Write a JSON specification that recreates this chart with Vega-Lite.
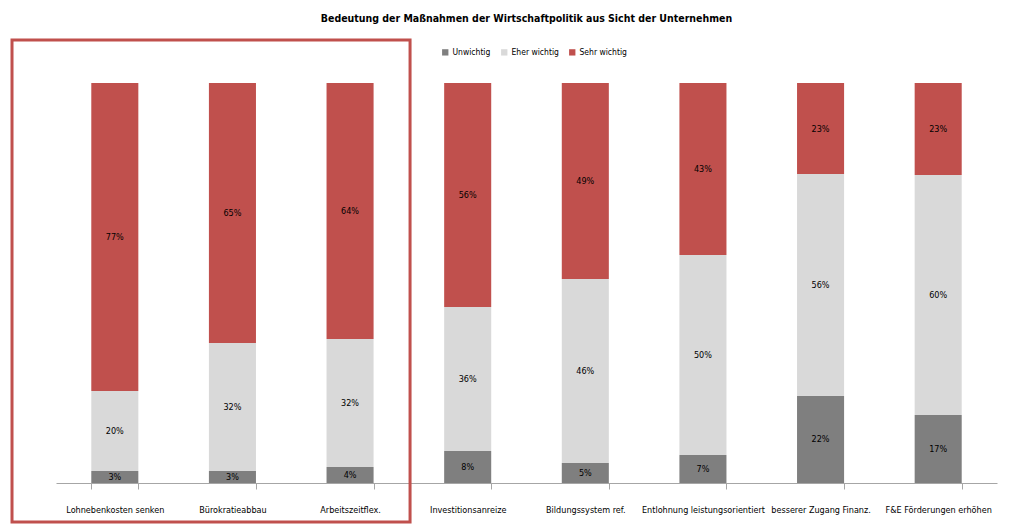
{
  "$schema": "https://vega.github.io/schema/vega-lite/v6.json",
  "width": 941,
  "height": 400,
  "autosize": {"type": "none"},
  "padding": {"left": 56, "top": 83, "right": 29, "bottom": 49},
  "background": "white",
  "title": {
    "text": "Bedeutung der Maßnahmen der Wirtschaftpolitik aus Sicht der Unternehmen",
    "font": "DejaVu Sans Condensed",
    "fontSize": 10.5,
    "fontWeight": "bold",
    "color": "#000000",
    "anchor": "middle",
    "frame": "group",
    "offset": 14
  },
  "config": {
    "view": {"stroke": null},
    "font": "DejaVu Sans Condensed"
  },
  "layer": [
    {
      "data": {
        "values": [
          {"cat": "Lohnebenkosten senken", "lvl": "Unwichtig", "v": 0.03},
          {"cat": "Lohnebenkosten senken", "lvl": "Eher wichtig", "v": 0.20},
          {"cat": "Lohnebenkosten senken", "lvl": "Sehr wichtig", "v": 0.77},
          {"cat": "Bürokratieabbau", "lvl": "Unwichtig", "v": 0.03},
          {"cat": "Bürokratieabbau", "lvl": "Eher wichtig", "v": 0.32},
          {"cat": "Bürokratieabbau", "lvl": "Sehr wichtig", "v": 0.65},
          {"cat": "Arbeitszeitflex.", "lvl": "Unwichtig", "v": 0.04},
          {"cat": "Arbeitszeitflex.", "lvl": "Eher wichtig", "v": 0.32},
          {"cat": "Arbeitszeitflex.", "lvl": "Sehr wichtig", "v": 0.64},
          {"cat": "Investitionsanreize", "lvl": "Unwichtig", "v": 0.08},
          {"cat": "Investitionsanreize", "lvl": "Eher wichtig", "v": 0.36},
          {"cat": "Investitionsanreize", "lvl": "Sehr wichtig", "v": 0.56},
          {"cat": "Bildungssystem ref.", "lvl": "Unwichtig", "v": 0.05},
          {"cat": "Bildungssystem ref.", "lvl": "Eher wichtig", "v": 0.46},
          {"cat": "Bildungssystem ref.", "lvl": "Sehr wichtig", "v": 0.49},
          {"cat": "Entlohnung leistungsorientiert", "lvl": "Unwichtig", "v": 0.07},
          {"cat": "Entlohnung leistungsorientiert", "lvl": "Eher wichtig", "v": 0.50},
          {"cat": "Entlohnung leistungsorientiert", "lvl": "Sehr wichtig", "v": 0.43},
          {"cat": "besserer Zugang Finanz.", "lvl": "Unwichtig", "v": 0.22},
          {"cat": "besserer Zugang Finanz.", "lvl": "Eher wichtig", "v": 0.56},
          {"cat": "besserer Zugang Finanz.", "lvl": "Sehr wichtig", "v": 0.23},
          {"cat": "F&E Förderungen erhöhen", "lvl": "Unwichtig", "v": 0.17},
          {"cat": "F&E Förderungen erhöhen", "lvl": "Eher wichtig", "v": 0.60},
          {"cat": "F&E Förderungen erhöhen", "lvl": "Sehr wichtig", "v": 0.23}
        ]
      },
      "transform": [
        {"calculate": "indexof(['Unwichtig', 'Eher wichtig', 'Sehr wichtig'], datum.lvl)", "as": "rank"}
      ],
      "encoding": {
        "x": {
          "field": "cat",
          "type": "nominal",
          "sort": null,
          "scale": {"paddingInner": 0.6, "paddingOuter": 0.3},
          "axis": {
            "title": null,
            "labelAngle": 0,
            "tickBand": "extent",
            "tickSize": 6,
            "domainColor": "#a6a6a6",
            "tickColor": "#a6a6a6",
            "labelFontSize": 9,
            "labelPadding": 16,
            "labelColor": "#000000",
            "labelFont": "DejaVu Sans Condensed",
            "labelLimit": 0
          }
        },
        "y": {"field": "v", "type": "quantitative", "stack": "normalize", "scale": {"domain": [0, 1]}, "axis": null},
        "order": {"field": "rank", "type": "quantitative"}
      },
      "layer": [
        {
          "mark": {"type": "bar"},
          "encoding": {
            "color": {
              "field": "lvl",
              "type": "nominal",
              "scale": {"domain": ["Unwichtig", "Eher wichtig", "Sehr wichtig"], "range": ["#7f7f7f", "#d9d9d9", "#c0504d"]},
              "legend": {
                "orient": "none",
                "legendX": 385,
                "legendY": -35,
                "direction": "horizontal",
                "title": null,
                "symbolType": "square",
                "symbolSize": 40,
                "symbolStrokeWidth": 0,
                "labelFontSize": 8.5,
                "labelColor": "#000000",
                "labelFont": "DejaVu Sans Condensed",
                "columnPadding": 9,
                "labelOffset": 3
              }
            }
          }
        },
        {
          "mark": {"type": "text", "fontSize": 9, "color": "#000000", "font": "DejaVu Sans Condensed"},
          "encoding": {
            "y": {"field": "v", "type": "quantitative", "stack": "normalize", "bandPosition": 0.5, "scale": {"domain": [0, 1]}},
            "detail": {"field": "lvl"},
            "text": {"field": "v", "type": "quantitative", "format": ".0%"}
          }
        }
      ]
    },
    {
      "data": {"values": [{}]},
      "mark": {"type": "rect", "filled": false, "stroke": "#c0504d", "strokeWidth": 3, "clip": false},
      "encoding": {
        "x": {"datum": -0.374, "type": "quantitative", "scale": {"domain": [0, 8]}, "axis": null},
        "x2": {"datum": 3.01},
        "y": {"datum": 1.1075, "type": "quantitative", "scale": {"domain": [0, 1]}},
        "y2": {"datum": -0.0975}
      }
    }
  ],
  "resolve": {"scale": {"x": "independent"}, "axis": {"x": "independent"}}
}
